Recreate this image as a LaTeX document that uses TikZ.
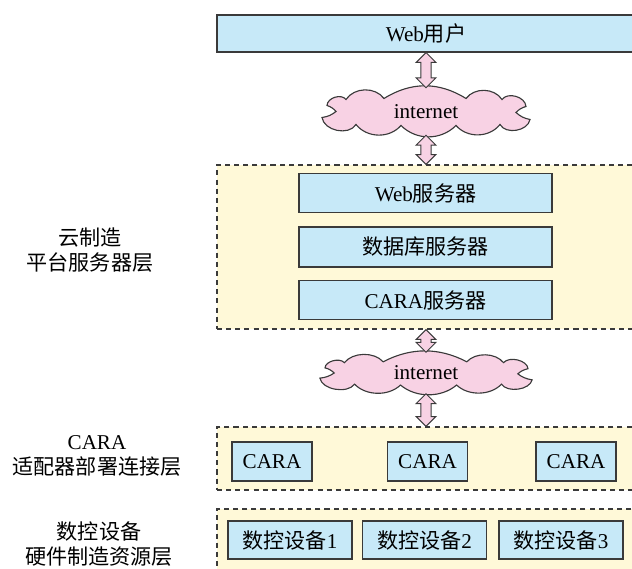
\documentclass[tikz,border=0pt]{standalone}
\usepackage{fontspec}
\setmainfont{Liberation Serif}
\newfontfamily\cjk{Noto Sans CJK SC}
\usetikzlibrary{calc}

\definecolor{boxblue}{HTML}{C7E9F8}
\definecolor{layeryellow}{HTML}{FFF9D8}
\definecolor{cloudpink}{HTML}{F8D2E4}
\definecolor{boxline}{HTML}{3A3A3A}

\newcommand{\zh}[1]{{\cjk #1}}
\newcommand{\pxl}{0.025cm}
% hollow double arrow from node #1 down to node #2
\newcommand{\blockarrow}[2]{%
  \draw[link] let \p1=(#1), \p2=(#2) in
    (\x1,\y1) -- (\x1-7pt,\y1-7pt) -- (\x1-3.6pt,\y1-7pt) -- (\x1-3.6pt,\y2+7pt)
    -- (\x1-7pt,\y2+7pt) -- (\x1,\y2) -- (\x1+7pt,\y2+7pt) -- (\x1+3.6pt,\y2+7pt)
    -- (\x1+3.6pt,\y1-7pt) -- (\x1+7pt,\y1-7pt) -- cycle;}

\begin{document}
\begin{tikzpicture}[x=0.025cm,y=-0.025cm,
  every node/.style={font=\fontsize{15}{17.5}\selectfont},
  box/.style={draw=boxline,fill=boxblue,line width=0.8pt,inner sep=0pt},
  layer/.style={draw=boxline,fill=layeryellow,dash pattern=on 3.6pt off 2.9pt,line width=0.8pt,inner sep=0pt},
  netline/.style={draw=boxline,fill=cloudpink,line width=0.8pt},
  link/.style={draw=boxline,fill=cloudpink,line width=0.7pt,line join=miter},
  pics/netcloud/.style={code={
    \draw[netline] (-104,6) to[bend right=15] (-90,0) to[bend right=15] (-99,-6)
      to[bend left=70] (-80,-12) to[bend left=55] (-42,-13) to[bend left=32] (40,-13)
      to[bend left=55] (76,-12) to[bend left=70] (100,-5) to[bend right=15] (90,1)
      to[bend right=15] (104,8) to[bend left=70] (74,13) to[bend left=50] (30,14)
      to[bend left=45] (-25,14) to[bend left=50] (-70,13)
      to[bend left=70] (-104,6) -- cycle;}}]
\useasboundingbox (0,0) rectangle (632,569);
\clip (0,0) rectangle (632,569);

% top: users and internet
\node[box,minimum width=418*\pxl,minimum height=37*\pxl] (user) at (426,33.5) {Web\zh{用户}};
\pic at (426,111.5) {netcloud};
\node[minimum width=208*\pxl,minimum height=47*\pxl,inner sep=0pt] (net1) at (426,111.5) {internet};

% cloud manufacturing platform layer
\node[layer,minimum width=418*\pxl,minimum height=164*\pxl] (srvlayer) at (426,247) {};
\node[box,minimum width=253*\pxl,minimum height=39*\pxl] (websrv) at (425.5,193) {Web\zh{服务器}};
\node[box,minimum width=253*\pxl,minimum height=40*\pxl] (dbsrv) at (425.5,247) {\zh{数据库服务器}};
\node[box,minimum width=253*\pxl,minimum height=39*\pxl] (carasrv) at (425.5,300) {CARA\zh{服务器}};

\pic[xscale=1.02,yscale=0.86] at (426,373) {netcloud};
\node[minimum width=212*\pxl,minimum height=41*\pxl,inner sep=0pt] (net2) at (426,373) {internet};

% adapter layer
\node[layer,minimum width=418*\pxl,minimum height=63*\pxl] (caralayer) at (426,458.5) {};
\foreach \i/\x in {1/272,2/427.5,3/576}
	\node[box,minimum width=80*\pxl,minimum height=39*\pxl] (cara\i) at (\x,461.5) {CARA};

% hardware layer
\node[layer,minimum width=418*\pxl,minimum height=90*\pxl] (devlayer) at (426,554) {};
\foreach \i/\x in {1/290,2/424.5,3/561}
	\node[box,minimum width=124*\pxl,minimum height=38*\pxl] (dev\i) at (\x,540) {\zh{数控设备}\i};

% arrows
\blockarrow{net1.north |- user.south}{net1.north}
\blockarrow{net1.south}{net1.south |- srvlayer.north}
\blockarrow{net2.north |- srvlayer.south}{net2.north}
\blockarrow{net2.south}{net2.south |- caralayer.north}

% layer names
\node[align=center] (srvname) at (90,250) {\zh{云制造}\\\zh{平台服务器层}};
\node[align=center] (caraname) at (97,456) {CARA\\\zh{适配器部署连接层}};
\node[align=center] (devname) at (99,544) {\zh{数控设备}\\\zh{硬件制造资源层}};
\end{tikzpicture}
\end{document}
